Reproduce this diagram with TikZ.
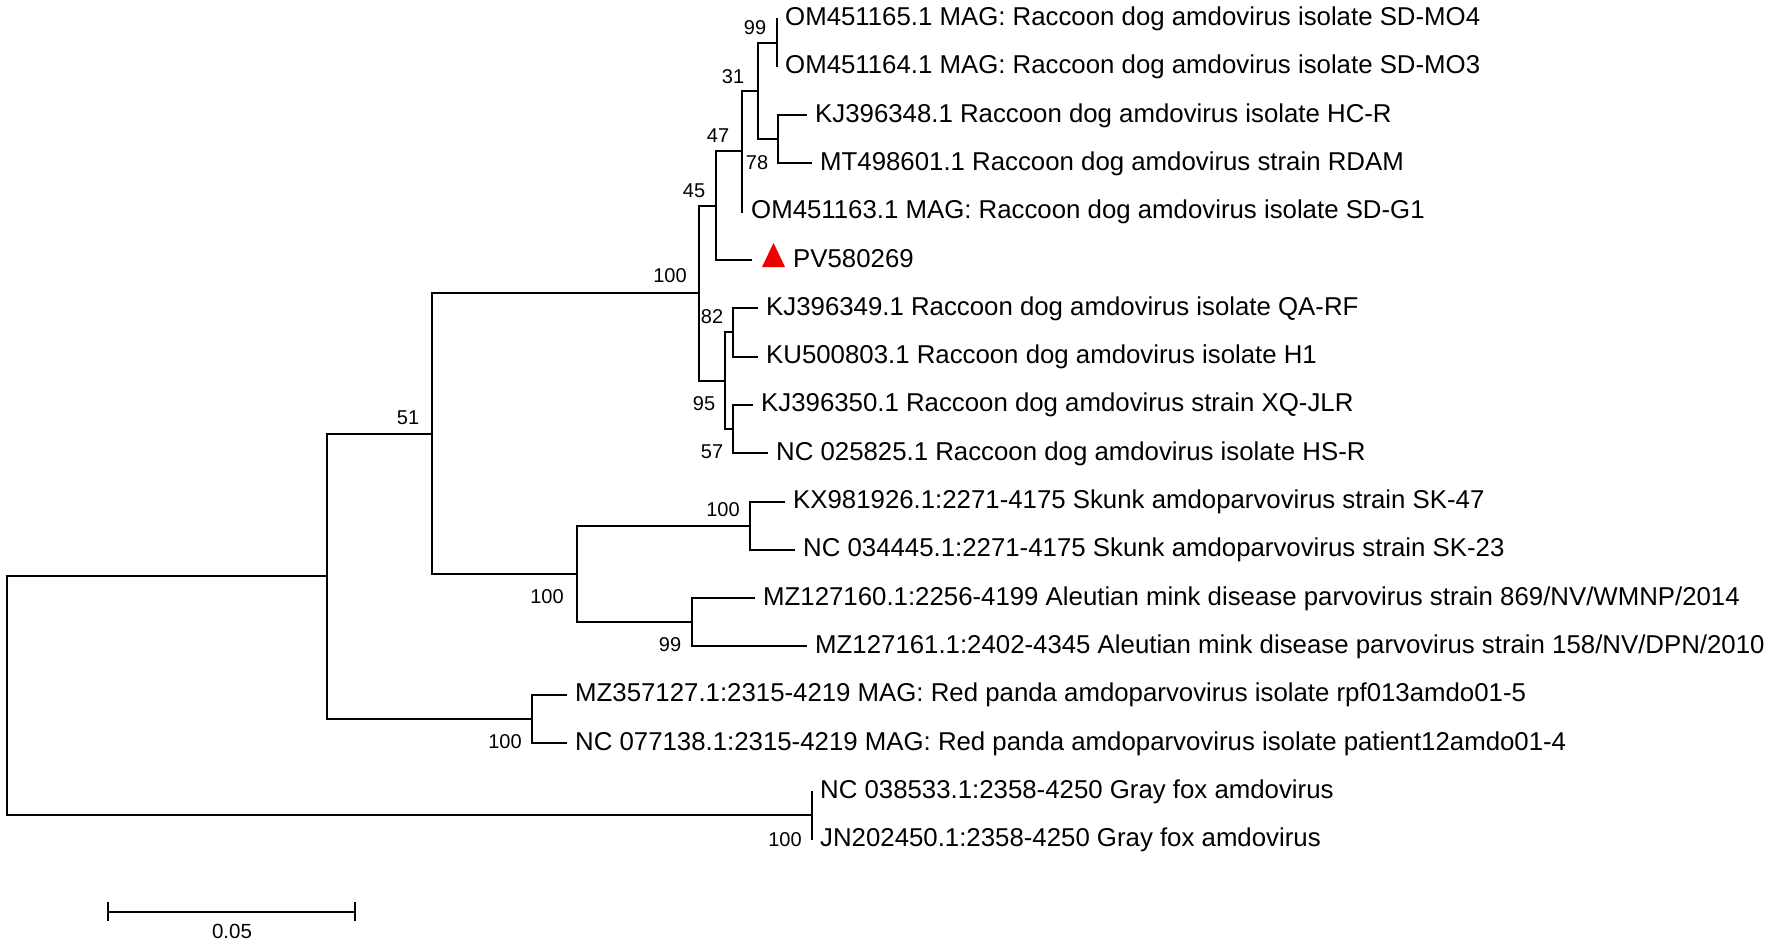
\documentclass[tikz,border=0pt]{standalone}
\usepackage{fontspec}
\setmainfont{Liberation Sans}
\usetikzlibrary{calc}
\definecolor{markred}{RGB}{235,0,0}
\begin{document}
\begin{tikzpicture}[x=1pt,y=-1pt,
  br/.style={line width=2pt, line join=miter},
  tip/.style={font=\fontsize{25.8}{30}\selectfont, inner sep=0pt, anchor=base west},
  bs/.style={font=\fontsize{20}{24}\selectfont, inner sep=0pt},
  lbl/.style={font=\fontsize{20.5}{24}\selectfont, inner sep=0pt}]
\useasboundingbox (0,0) rectangle (1772,947);
% tips
\coordinate (t0) at (777,18.5);
\coordinate (t1) at (777,66.8);
\coordinate (t2) at (807,115.1);
\coordinate (t3) at (812,163.4);
\coordinate (t4) at (743,211.7);
\coordinate (t5) at (752,260);
\coordinate (t6) at (758,308.3);
\coordinate (t7) at (758,356.6);
\coordinate (t8) at (753,404.9);
\coordinate (t9) at (768,453.2);
\coordinate (t10) at (785,501.5);
\coordinate (t11) at (795,549.8);
\coordinate (t12) at (755,598.1);
\coordinate (t13) at (807,646.4);
\coordinate (t14) at (567,694.7);
\coordinate (t15) at (567,743);
\coordinate (t16) at (812,791.3);
\coordinate (t17) at (812,839.6);
% internal nodes
\coordinate (n99) at (777,42.65);
\coordinate (nHC) at (778,139.25);
\coordinate (n31) at (758,90.95);
\coordinate (n47) at (742,151.3);
\coordinate (n45) at (716,205.65);
\coordinate (n82) at (733,332.45);
\coordinate (n57) at (733,429.05);
\coordinate (n95) at (725,380.75);
\coordinate (nR) at (699,293.2);
\coordinate (nSk) at (750,525.65);
\coordinate (nMk) at (692,622.25);
\coordinate (nSM) at (577,573.95);
\coordinate (n51) at (432,433.6);
\coordinate (nRP) at (532,718.85);
\coordinate (n1) at (327,576.2);
\coordinate (nGF) at (812,815.45);
\coordinate (root) at (7,695.8);
% branches
\draw[br] (n99) |- (t0); \draw[br] (n99) |- (t1);
\draw[br] (nHC) |- (t2); \draw[br] (nHC) |- (t3);
\draw[br] (n31) |- (n99); \draw[br] (n31) |- (nHC);
\draw[br] (n47) |- (n31); \draw[br] (n47) |- (t4);
\draw[br] (n45) |- (n47); \draw[br] (n45) |- (t5);
\draw[br] (n82) |- (t6); \draw[br] (n82) |- (t7);
\draw[br] (n57) |- (t8); \draw[br] (n57) |- (t9);
\draw[br] (n95) |- (n82); \draw[br] (n95) |- (n57);
\draw[br] (nR) |- (n45); \draw[br] (nR) |- (n95);
\draw[br] (nSk) |- (t10); \draw[br] (nSk) |- (t11);
\draw[br] (nMk) |- (t12); \draw[br] (nMk) |- (t13);
\draw[br] (nSM) |- (nSk); \draw[br] (nSM) |- (nMk);
\draw[br] (n51) |- (nR); \draw[br] (n51) |- (nSM);
\draw[br] (nRP) |- (t14); \draw[br] (nRP) |- (t15);
\draw[br] (n1) |- (n51); \draw[br] (n1) |- (nRP);
\draw[br] (nGF) |- (t16); \draw[br] (nGF) |- (t17);
\draw[br] (root) |- (n1); \draw[br] (root) |- (nGF);
% tip labels
\node[tip] (L0) at ([shift={(8,7)}]t0) {OM451165.1 MAG: Raccoon dog amdovirus isolate SD-MO4};
\node[tip] (L1) at ([shift={(8,7)}]t1) {OM451164.1 MAG: Raccoon dog amdovirus isolate SD-MO3};
\node[tip] (L2) at ([shift={(8,7)}]t2) {KJ396348.1 Raccoon dog amdovirus isolate HC-R};
\node[tip] (L3) at ([shift={(8,7)}]t3) {MT498601.1 Raccoon dog amdovirus strain RDAM};
\node[tip] (L4) at ([shift={(8,7)}]t4) {OM451163.1 MAG: Raccoon dog amdovirus isolate SD-G1};
\fill[markred] ([shift={(10,7)}]t5) -- ([shift={(33,7)}]t5) -- ([shift={(21.5,-17)}]t5) -- cycle;
\node[tip] (L5) at ([shift={(41,7)}]t5) {PV580269};
\node[tip] (L6) at ([shift={(8,7)}]t6) {KJ396349.1 Raccoon dog amdovirus isolate QA-RF};
\node[tip] (L7) at ([shift={(8,7)}]t7) {KU500803.1 Raccoon dog amdovirus isolate H1};
\node[tip] (L8) at ([shift={(8,7)}]t8) {KJ396350.1 Raccoon dog amdovirus strain XQ-JLR};
\node[tip] (L9) at ([shift={(8,7)}]t9) {NC 025825.1 Raccoon dog amdovirus isolate HS-R};
\node[tip] (L10) at ([shift={(8,7)}]t10) {KX981926.1:2271-4175 Skunk amdoparvovirus strain SK-47};
\node[tip] (L11) at ([shift={(8,7)}]t11) {NC 034445.1:2271-4175 Skunk amdoparvovirus strain SK-23};
\node[tip] (L12) at ([shift={(8,7)}]t12) {MZ127160.1:2256-4199 Aleutian mink disease parvovirus strain 869/NV/WMNP/2014};
\node[tip] (L13) at ([shift={(8,7)}]t13) {MZ127161.1:2402-4345 Aleutian mink disease parvovirus strain 158/NV/DPN/2010};
\node[tip] (L14) at ([shift={(8,7)}]t14) {MZ357127.1:2315-4219 MAG: Red panda amdoparvovirus isolate rpf013amdo01-5};
\node[tip] (L15) at ([shift={(8,7)}]t15) {NC 077138.1:2315-4219 MAG: Red panda amdoparvovirus isolate patient12amdo01-4};
\node[tip] (L16) at ([shift={(8,7)}]t16) {NC 038533.1:2358-4250 Gray fox amdovirus};
\node[tip] (L17) at ([shift={(8,7)}]t17) {JN202450.1:2358-4250 Gray fox amdovirus};
% bootstrap values
\node[bs] (b99) at (755,28) {99};
\node[bs] (b31) at (733,77) {31};
\node[bs] (b47) at (718,136) {47};
\node[bs] (b78) at (757,163) {78};
\node[bs] (b45) at (694,191) {45};
\node[bs] (b100R) at (670,276) {100};
\node[bs] (b82) at (712,317) {82};
\node[bs] (b95) at (704,404) {95};
\node[bs] (b57) at (712,452) {57};
\node[bs] (b51) at (408,418) {51};
\node[bs] (b100Sk) at (723,510) {100};
\node[bs] (b100SM) at (547,597) {100};
\node[bs] (b99Mk) at (670,645) {99};
\node[bs] (b100RP) at (505,742) {100};
\node[bs] (b100GF) at (785,840) {100};
% scale bar
\coordinate (s0) at (108,912);
\coordinate (s1) at (355,912);
\draw[br] (s0) -- (s1);
\draw[br] ([yshift=10pt]s0) -- ([yshift=-9pt]s0);
\draw[br] ([yshift=10pt]s1) -- ([yshift=-9pt]s1);
\node[lbl] (sl) at (232,931) {0.05};
\end{tikzpicture}
\end{document}
